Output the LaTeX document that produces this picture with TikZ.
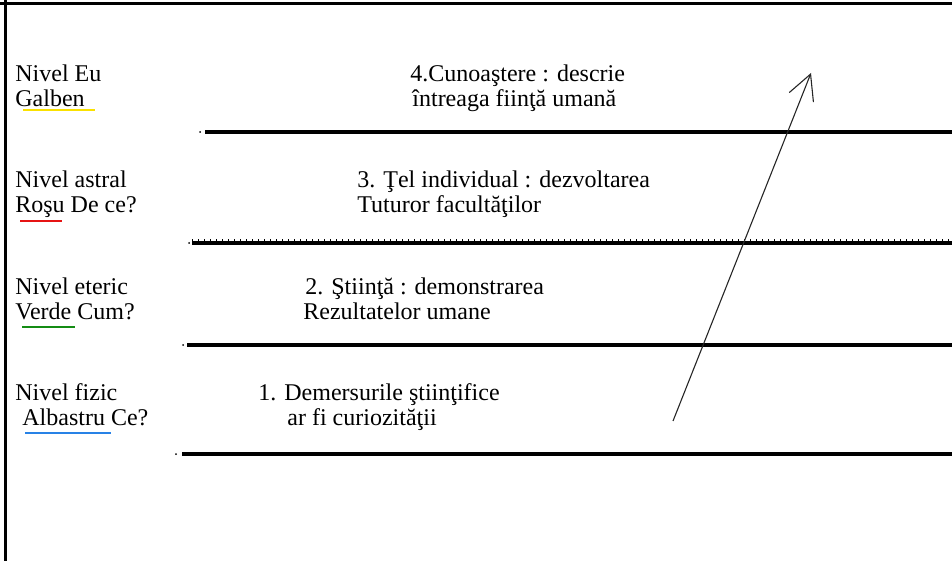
\documentclass[tikz,border=0pt]{standalone}
\usepackage{fontspec}
\setmainfont{Liberation Serif}
\usepackage{xcolor}
\usetikzlibrary{arrows.meta}

\definecolor{galbencol}{RGB}{250,225,0}
\definecolor{rosucol}{RGB}{230,20,20}
\definecolor{verdecol}{RGB}{20,140,20}
\definecolor{albastrucol}{RGB}{40,130,230}

\begin{document}
\begin{tikzpicture}[x=0.5pt, y=-0.5pt,
    txt/.style = {anchor=base west, inner sep=0pt, font=\fontsize{12}{12.5}\selectfont},
    level/.style = {draw=black, line width=1.6pt},
    ticks/.style = {draw=black, line width=0.7pt, dash pattern=on 0.5pt off 2.5pt},
    uline/.style = {line width=0.8pt},
    growth/.style = {draw=black!85, line width=0.55pt, -{Straight Barb[length=12.5pt, width=13pt]}}
]
\useasboundingbox (0,0) rectangle (952,561);

% Frame
\draw [line width=1.5pt] (0,4) -- (952,4);
\draw [line width=1.5pt] (5.3,0) -- (5.3,561);

% Levels
\draw [level] (205,132) -- (952,132);
\draw [level] (192,243) -- (952,243);
\draw [ticks] (192,240) -- (952,240);
\draw [level] (187,345) -- (952,345);
\draw [level] (182,454) -- (952,454);
\fill (200,132) circle (0.5pt);
\fill (189,243) circle (0.5pt);
\fill (183,345) circle (0.5pt);
\fill (176,454) circle (0.5pt);

% Left labels
\node (eu) [txt] at (15,82) {Nivel Eu};
\node (galben) [txt] at (15,107) {Galben};
\node (astral) [txt] at (15,188) {Nivel astral};
\node (rosu) [txt] at (15,213) {Roşu De ce?};
\node (eteric) [txt] at (15,294) {Nivel eteric};
\node (verde) [txt] at (15,319) {Verde Cum?};
\node (fizic) [txt] at (15,400) {Nivel fizic};
\node (albastru) [txt] at (22,425) {Albastru Ce?};

% Colour underlines
\draw [uline, draw=galbencol] (23,110) -- (95,110);
\draw [uline, draw=rosucol] (20,221) -- (62,221);
\draw [uline, draw=verdecol] (22,327) -- (75,327);
\draw [uline, draw=albastrucol] (25,433) -- (111,433);

% Level texts
\node (cun) [txt] at (410,82) {4.Cunoaştere : descrie};
\node (cunb) [txt] at (412,107) {întreaga fiinţă umană};
\node (tel) [txt] at (357,188) {3. Ţel individual : dezvoltarea};
\node (telb) [txt] at (357,213) {Tuturor facultăţilor};
\node (stiinta) [txt] at (305,294) {2. Ştiinţă : demonstrarea};
\node (stiintab) [txt] at (303,319) {Rezultatelor umane};
\node (demers) [txt] at (258,400) {1. Demersurile ştiinţifice};
\node (demersb) [txt] at (287,425) {ar fi curiozităţii};

% Growth arrow
\coordinate (start) at (673,421);
\coordinate (tip) at (811,73);
\draw [growth] (start) -- (tip);

\end{tikzpicture}
\end{document}
